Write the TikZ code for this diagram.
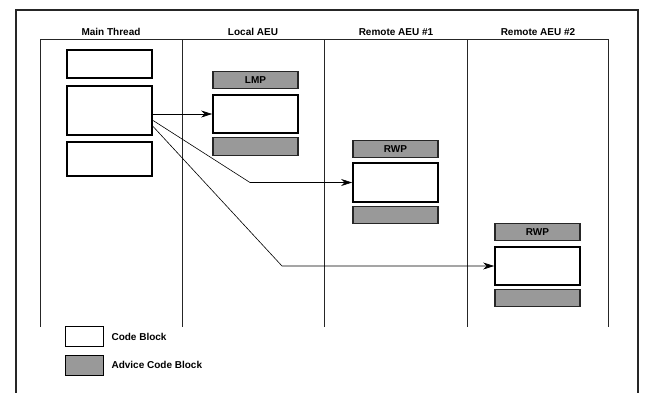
\documentclass[tikz,border=0pt]{standalone}
\usepackage{fontspec}
\setmainfont{Liberation Sans}
\usetikzlibrary{arrows.meta}
\definecolor{advgray}{gray}{0.6}

\begin{document}
\begin{tikzpicture}[x=1pt,y=-1pt,
  font=\fontsize{10}{12}\selectfont\bfseries,
  codeblk/.style={draw, line width=1.8pt, fill=white, minimum width=85pt, minimum height=#1, inner sep=0pt},
  advblk/.style={draw=black!85, line width=1.2pt, fill=advgray, minimum width=85pt, minimum height=#1, inner sep=0pt},
  lane/.style={line width=0.8pt, black!85},
  call/.style={line width=0.6pt, -{Stealth[length=11pt,width=7pt,inset=3.5pt]}}]
\useasboundingbox (0,0) rectangle (648,392);
\clip (0,0) rectangle (648,392);

% Outer frame
\draw[line width=1.4pt, black!85] (16,10) rectangle (638,420);

% Lanes
\draw[lane] (40,39) -- (608,39);
\foreach \lx in {40,182,324,467,608}
  \draw[lane] (\lx,39) -- (\lx,327);
\node (hmain) at (111,32) {Main Thread};
\node (hlocal) at (253,32) {Local AEU};
\node (hrem1) at (396,32) {Remote AEU \#1};
\node (hrem2) at (538,32) {Remote AEU \#2};

% Main thread blocks
\node[codeblk=28pt] (m1) at (109.5,64) {};
\node[codeblk=49pt, line width=2.2pt] (m2) at (109.5,110.5) {};
\node[codeblk=34pt] (m3) at (109.5,159) {};

% Local AEU
\node[advblk=17pt] (lmp) at (255.5,80) {LMP};
\node[codeblk=38pt] (lcode) at (255.5,114) {};
\node[advblk=18pt] (lgray) at (255.5,146.5) {};

% Remote AEU #1
\node[advblk=17pt] (rwp1) at (395.5,149) {RWP};
\node[codeblk=39pt] (r1code) at (395.5,182.5) {};
\node[advblk=17pt] (r1gray) at (395.5,215) {};

% Remote AEU #2
\node[advblk=17pt] (rwp2) at (537.5,232) {RWP};
\node[codeblk=38pt] (r2code) at (537.5,266) {};
\node[advblk=17pt] (r2gray) at (537.5,298) {};

% Calls
\coordinate (k1) at (250,0);
\coordinate (k2) at (282,0);
\draw[call] (lcode.west -| m2.east) -- (lcode.west);
\draw[call] ([yshift=-10pt]m2.east) -- (k1 |- r1code.west) -- (r1code.west);
\draw[call] ([yshift=-16pt]m2.east) -- (k2 |- r2code.west) -- (r2code.west);

% Legend
\node[draw, line width=1pt, fill=white, minimum width=38pt, minimum height=20pt, inner sep=0pt] (lgcode) at (84.5,336.5) {};
\node[draw, line width=1pt, fill=advgray, minimum width=38pt, minimum height=20pt, inner sep=0pt] (lgadv) at (84.5,365.5) {};
\node[anchor=west] (tcode) at (108,337) {Code Block};
\node[anchor=west] (tadv) at (108,365) {Advice Code Block};
\end{tikzpicture}
\end{document}
